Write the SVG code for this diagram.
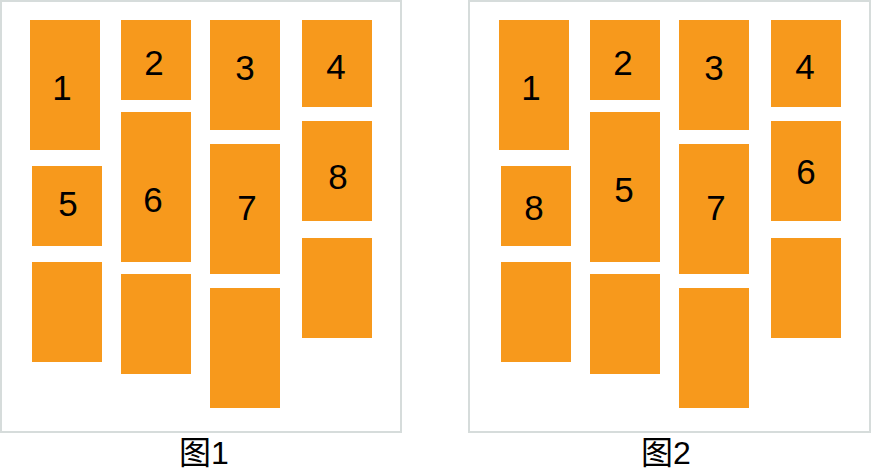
<svg xmlns="http://www.w3.org/2000/svg" width="871" height="472" viewBox="0 0 871 472">
<style>
.frame{fill:#fff;stroke:#d6dcdb;stroke-width:2}
.b{fill:#f7991c}
.t{font-family:"Liberation Sans","Noto Sans CJK SC",sans-serif;font-size:35px;fill:#000;text-anchor:middle}
.c{font-family:"Liberation Sans","Noto Sans CJK SC",sans-serif;font-size:32px;fill:#000;text-anchor:middle}
</style>
<rect width="871" height="472" fill="#fff"/>
<g id="fig1">
<rect class="frame" x="1" y="1" width="400" height="431"/>
<g id="f1-n1"><rect class="b" x="30" y="20" width="70" height="130"/><text class="t" x="62" y="100">1</text></g>
<g id="f1-n2"><rect class="b" x="121" y="20" width="70" height="80"/><text class="t" x="154" y="75">2</text></g>
<g id="f1-n3"><rect class="b" x="210" y="20" width="70" height="110"/><text class="t" x="245" y="80">3</text></g>
<g id="f1-n4"><rect class="b" x="302" y="20" width="70" height="87"/><text class="t" x="336" y="79">4</text></g>
<g id="f1-n5"><rect class="b" x="32" y="166" width="70" height="80"/><text class="t" x="68" y="216">5</text></g>
<g id="f1-n6"><rect class="b" x="121" y="112" width="70" height="150"/><text class="t" x="153" y="212">6</text></g>
<g id="f1-n7"><rect class="b" x="210" y="144" width="70" height="130"/><text class="t" x="247" y="220">7</text></g>
<g id="f1-n8"><rect class="b" x="302" y="121" width="70" height="100"/><text class="t" x="338" y="189">8</text></g>
<g id="f1-n9"><rect class="b" x="32" y="262" width="70" height="100"/></g>
<g id="f1-n10"><rect class="b" x="121" y="274" width="70" height="100"/></g>
<g id="f1-n11"><rect class="b" x="210" y="288" width="70" height="120"/></g>
<g id="f1-n12"><rect class="b" x="302" y="238" width="70" height="100"/></g>
<text class="c" x="204" y="464">图1</text>
</g>
<g id="fig2">
<rect class="frame" x="469" y="1" width="401" height="431"/>
<g id="f2-n1"><rect class="b" x="499" y="20" width="70" height="130"/><text class="t" x="531" y="100">1</text></g>
<g id="f2-n2"><rect class="b" x="590" y="20" width="70" height="80"/><text class="t" x="623" y="75">2</text></g>
<g id="f2-n3"><rect class="b" x="679" y="20" width="70" height="110"/><text class="t" x="714" y="80">3</text></g>
<g id="f2-n4"><rect class="b" x="771" y="20" width="70" height="87"/><text class="t" x="805" y="79">4</text></g>
<g id="f2-n8"><rect class="b" x="501" y="166" width="70" height="80"/><text class="t" x="534" y="220">8</text></g>
<g id="f2-n5"><rect class="b" x="590" y="112" width="70" height="150"/><text class="t" x="624" y="202">5</text></g>
<g id="f2-n7"><rect class="b" x="679" y="144" width="70" height="130"/><text class="t" x="716" y="220">7</text></g>
<g id="f2-n6"><rect class="b" x="771" y="121" width="70" height="100"/><text class="t" x="806" y="184">6</text></g>
<g id="f2-n9"><rect class="b" x="501" y="262" width="70" height="100"/></g>
<g id="f2-n10"><rect class="b" x="590" y="274" width="70" height="100"/></g>
<g id="f2-n11"><rect class="b" x="679" y="288" width="70" height="120"/></g>
<g id="f2-n12"><rect class="b" x="771" y="238" width="70" height="100"/></g>
<text class="c" x="666" y="464">图2</text>
</g>
</svg>
